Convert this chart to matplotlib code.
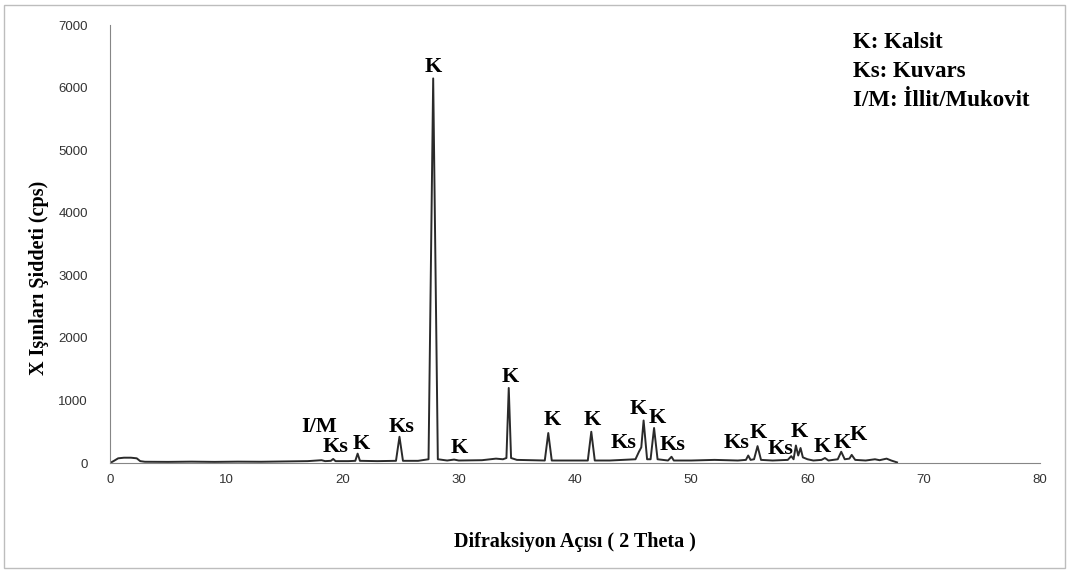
import matplotlib
matplotlib.use("Agg")
import matplotlib.pyplot as plt
from matplotlib.patches import Rectangle

# XRD trace (2 theta, cps)
two_theta = [0.0, 0.3, 0.7, 1.2, 1.8, 2.3, 2.6, 3.0, 5.0, 7.0, 9.0, 11.0, 13.0, 15.0, 17.0,
             18.2, 18.5, 19.0, 19.2, 19.4, 20.5, 21.1, 21.3, 21.5, 23.0, 24.6, 24.9, 25.2,
             26.5, 27.4, 27.8, 28.2, 29.0, 29.6, 30.0, 32.0, 33.2, 33.8, 34.1, 34.3, 34.5,
             35.0, 37.4, 37.7, 38.0, 41.1, 41.4, 41.7, 43.0, 45.2, 45.5, 45.7, 45.9, 46.2,
             46.5, 46.8, 47.1, 48.0, 48.3, 48.5, 50.0, 52.0, 54.0, 54.7, 54.9, 55.1, 55.4,
             55.7, 56.0, 57.0, 58.3, 58.6, 58.8, 59.0, 59.2, 59.4, 59.6, 60.0, 60.5, 61.2,
             61.5, 61.8, 62.6, 62.9, 63.2, 63.6, 63.8, 64.1, 65.0, 65.8, 66.2, 66.8, 67.2, 67.7]
intensity = [0, 30, 75, 85, 85, 75, 30, 20, 18, 22, 18, 22, 20, 25, 30,
             45, 30, 35, 65, 30, 30, 35, 150, 35, 30, 35, 420, 35,
             35, 60, 6150, 60, 40, 55, 40, 45, 70, 60, 80, 1200, 80,
             50, 40, 480, 40, 40, 500, 40, 40, 60, 180, 250, 680, 60,
             60, 560, 60, 40, 100, 40, 40, 50, 40, 50, 120, 50, 60,
             270, 50, 40, 50, 110, 60, 280, 120, 240, 90, 60, 40, 50,
             80, 40, 60, 180, 60, 70, 130, 50, 40, 60, 45, 70, 40, 10]

# phase labels and where they sit
peak_labels = ["I/M", "Ks", "K", "Ks", "K", "K", "K", "K", "K", "Ks", "K", "K", "Ks",
               "Ks", "K", "Ks", "K", "K", "K", "K"]
label_x = [18.0, 19.4, 21.6, 25.1, 27.8, 30.0, 34.4, 38.0, 41.5, 44.2, 45.4, 47.1, 48.4,
           53.9, 55.8, 57.7, 59.3, 61.3, 63.0, 64.4]
label_y = [575, 255, 300, 575, 6325, 240, 1375, 690, 690, 320, 860, 720, 290,
           320, 480, 225, 500, 255, 320, 450]

legend_lines = ["K: Kalsit", "Ks: Kuvars", "I/M: \u0130llit/Mukovit"]

fig = plt.figure(figsize=(10.69, 5.70), dpi=100)
fig.patches.append(Rectangle((0.004, 0.004), 0.992, 0.988, transform=fig.transFigure,
                             fill=False, edgecolor="#bdbdbd", linewidth=1))
ax = fig.add_axes([0.1029, 0.1877, 0.87, 0.768])

ax.plot(two_theta, intensity, color="#2a2a2a", linewidth=1.4)

serif = "Liberation Serif"
for txt, x, y in zip(peak_labels, label_x, label_y):
    ax.text(x, y, txt, ha="center", va="center", fontsize=16, fontweight="bold",
            family=serif)

for i, line in enumerate(legend_lines):
    fig.text(0.798, 0.925 - i * 0.051, line, ha="left", va="center", fontsize=16.5,
             fontweight="bold", family=serif)

ax.set_xlim(0, 80)
ax.set_ylim(0, 7000)
ax.set_xticks(range(0, 81, 10))
ax.set_yticks(range(0, 7001, 1000))
ax.tick_params(length=0, labelsize=9.5, colors="#333333")
ax.tick_params(axis="y", pad=16)
ax.tick_params(axis="x", pad=8)
for lab in ax.get_xticklabels() + ax.get_yticklabels():
    lab.set_family("Liberation Sans")
for s in ["top", "right"]:
    ax.spines[s].set_visible(False)
for s in ["left", "bottom"]:
    ax.spines[s].set_color("#868686")

ax.set_xlabel("Difraksiyon A\u00e7\u0131s\u0131 ( 2 Theta )", fontsize=14.5,
              fontweight="bold", family=serif)
ax.set_ylabel("X I\u015f\u0131nlar\u0131 \u015eiddeti (cps)", fontsize=14.5,
              fontweight="bold", family=serif)
ax.xaxis.set_label_coords(0.5, -0.158)
ax.yaxis.set_label_coords(-0.066, 0.422)

fig.savefig("out.png", dpi=100)
